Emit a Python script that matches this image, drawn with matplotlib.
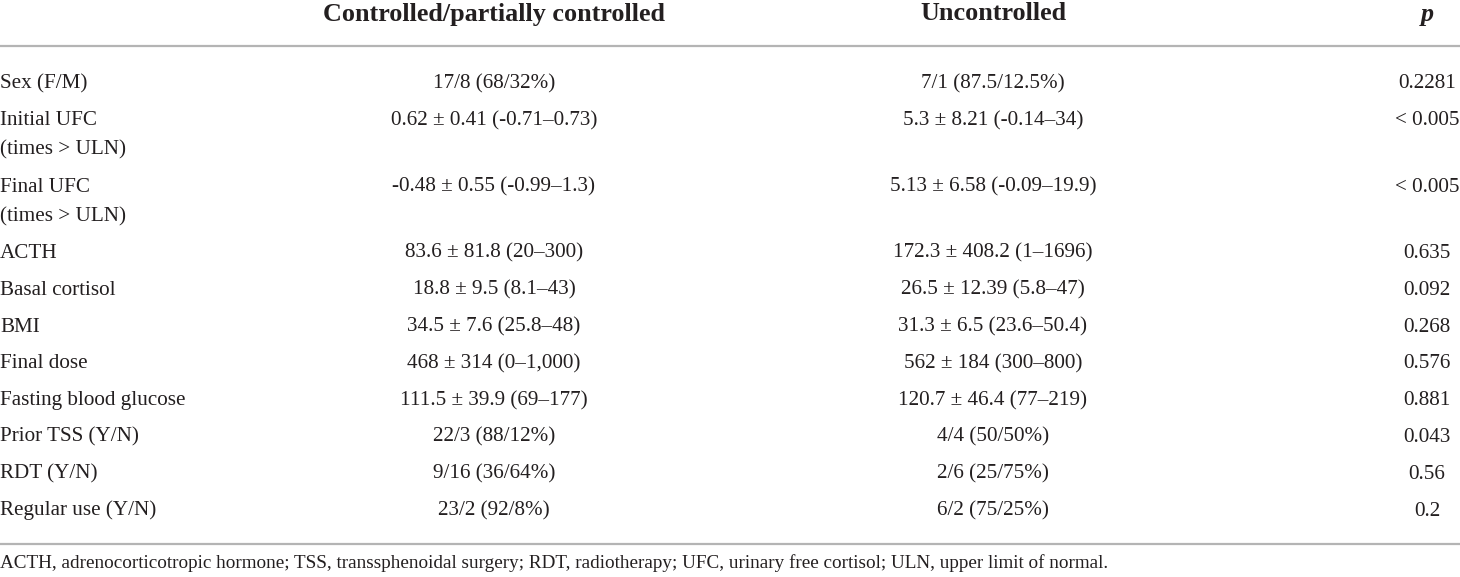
import matplotlib.pyplot as plt

# table content
col_headers = ['Controlled/partially controlled', 'Uncontrolled', 'p']
row_labels = ['Sex (F/M)', 'Initial UFC\n(times > ULN)', 'Final UFC\n(times > ULN)',
              'ACTH', 'Basal cortisol', 'BMI', 'Final dose', 'Fasting blood glucose',
              'Prior TSS (Y/N)', 'RDT (Y/N)', 'Regular use (Y/N)']
controlled = ['17/8 (68/32%)', '0.62 ± 0.41 (-0.71–0.73)', '-0.48 ± 0.55 (-0.99–1.3)',
              '83.6 ± 81.8 (20–300)', '18.8 ± 9.5 (8.1–43)', '34.5 ± 7.6 (25.8–48)',
              '468 ± 314 (0–1,000)', '111.5 ± 39.9 (69–177)', '22/3 (88/12%)',
              '9/16 (36/64%)', '23/2 (92/8%)']
uncontrolled = ['7/1 (87.5/12.5%)', '5.3 ± 8.21 (-0.14–34)', '5.13 ± 6.58 (-0.09–19.9)',
                '172.3 ± 408.2 (1–1696)', '26.5 ± 12.39 (5.8–47)', '31.3 ± 6.5 (23.6–50.4)',
                '562 ± 184 (300–800)', '120.7 ± 46.4 (77–219)', '4/4 (50/50%)',
                '2/6 (25/75%)', '6/2 (75/25%)']
p_values = ['0.2281', '< 0.005', '< 0.005', '0.635', '0.092', '0.268', '0.576',
            '0.881', '0.043', '0.56', '0.2']
footnote = ('ACTH, adrenocorticotropic hormone; TSS, transsphenoidal surgery; RDT, radiotherapy; '
            'UFC, urinary free cortisol; ULN, upper limit of normal.')

W, H = 1460, 577
fig = plt.figure(figsize=(W / 100, H / 100), dpi=100)
ax = fig.add_axes([0, 0, 1, 1])
ax.set_xlim(0, W)
ax.set_ylim(H, 0)
ax.axis('off')

plt.rcParams['font.family'] = ['Liberation Serif', 'DejaVu Serif']
txt = '#231f20'
line_c = '#b4b4b4'
fs = 15.2

col_x = [494, 993, 1427]

# header (baseline placed)
for i, h in enumerate(col_headers):
    ax.text(col_x[i], 20.5, h, ha='center', va='baseline', fontsize=18.8,
            fontweight='bold', style='italic' if h == 'p' else 'normal', color=txt)

ax.axhline(46, color=line_c, lw=1.6)

y = 81.5
pitch = 36.8
lspace = 29.5
off = 7  # centre of caps -> baseline
for lab, c, u, p in zip(row_labels, controlled, uncontrolled, p_values):
    lines = lab.split('\n')
    for k, ln in enumerate(lines):
        ax.text(0, y + k * lspace + off, ln, ha='left', va='baseline', fontsize=fs, color=txt)
    ax.text(col_x[0], y + off, c, ha='center', va='baseline', fontsize=fs, color=txt)
    ax.text(col_x[1], y + off, u, ha='center', va='baseline', fontsize=fs, color=txt)
    ax.text(col_x[2], y + off, p, ha='center', va='baseline', fontsize=fs, color=txt)
    y += pitch + lspace * (len(lines) - 1)

ax.axhline(544, color=line_c, lw=1.6)
ax.text(0, 568.5, footnote, ha='left', va='baseline', fontsize=13.75, color=txt)

fig.savefig('out.png', dpi=100)
